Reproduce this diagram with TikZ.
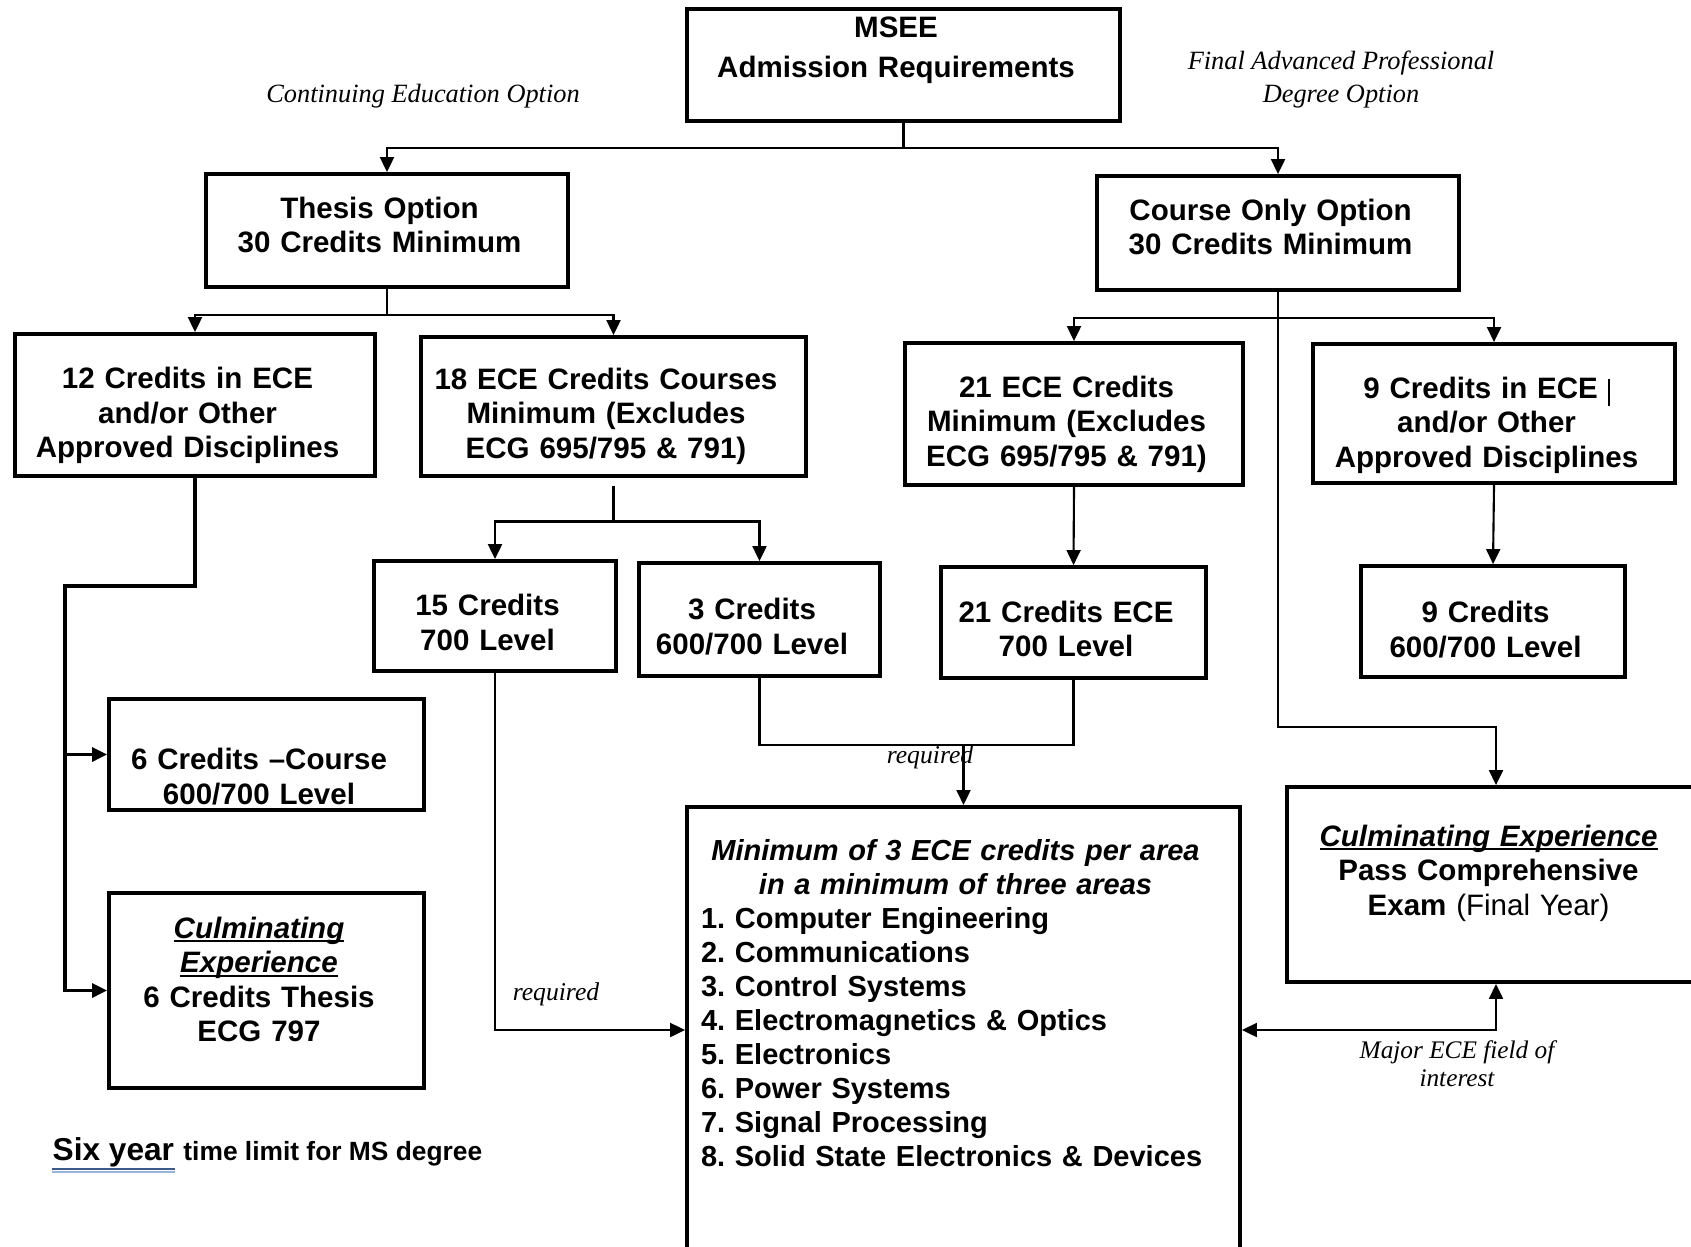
\documentclass[tikz,border=0pt]{standalone}
\usepackage{fontspec}
\setmainfont{Liberation Sans}
\newfontfamily\labelfont{Liberation Serif}
\usetikzlibrary{arrows.meta}
\definecolor{ulinedark}{RGB}{60,90,140}
\definecolor{ulinelight}{RGB}{150,180,220}
\newcommand\wordline[1]{\leavevmode\setbox0\hbox{#1}\rlap{\rule[-1.1pt]{\wd0}{0.55pt}}\box0}

\begin{document}
\begin{tikzpicture}[x=0.1mm, y=-0.1mm,
  >={Triangle[length=1.5mm,width=1.4mm]},
  box/.style 2 args={draw, line width=1.1pt, inner sep=0pt,
    minimum width=#1, text width=#1, minimum height=#2,
    font=\fontsize{8.4}{9.8}\selectfont\bfseries,
    execute at begin node={\centering\rightskip=1.5mm plus 1fil}},
  link/.style={line width=0.6pt},
  note/.style={align=center, font=\labelfont\itshape\fontsize{7.5}{9.4}\selectfont},
  reqnote/.style={font=\labelfont\itshape\fontsize{7.3}{8}\selectfont}]

\clip (0,0) rectangle (1691,1246);

\node[box={43.3mm}{11.2mm}] (msee) at (903.5,65) {MSEE\\[0.55mm]Admission Requirements\\[0.05mm]\mbox{}};
\node[note] (contedu) at (423,96) {Continuing Education Option};
\node[note] (finaladv) at (1341,79.5) {Final Advanced Professional\\Degree Option};

\node[box={36.2mm}{11.3mm}] (thesis) at (387,230.5) {Thesis Option\\30 Credits Minimum\\[-2.25mm]\mbox{}};
\node[box={36.2mm}{11.4mm}] (course) at (1278,233) {Course Only Option\\30 Credits Minimum\\[-2.25mm]\mbox{}};

\node[box={36mm}{14.2mm}] (twelve) at (195,405) {\mbox{}\\[0.8mm]12 Credits in ECE\\and/or Other\\Approved Disciplines};
\node[box={38.5mm}{13.9mm}] (eighteen) at (613.5,406.5) {\mbox{}\\[0.6mm]18 ECE Credits Courses\\Minimum (Excludes\\ECG 695/795 \& 791)};
\node[box={33.8mm}{14.2mm}] (twentyone) at (1074,414) {\mbox{}\\[0.7mm]21 ECE Credits\\Minimum (Excludes\\ECG 695/795 \& 791)};
\node[box={36.2mm}{13.9mm}] (nine) at (1494,413.5) {\mbox{}\\[1mm]9 Credits in ECE\hspace{1mm}\rule[-0.8mm]{0.5pt}{2.7mm}\\and/or Other\\Approved Disciplines};

\node[box={24.2mm}{11mm}] (fifteen) at (495,616) {\mbox{}\\15 Credits\\700 Level};
\node[box={24.1mm}{11.3mm}] (three) at (759.5,619.5) {\mbox{}\\[0.15mm]3 Credits\\600/700 Level};
\node[box={26.5mm}{11.1mm}] (twentyoneece) at (1073.5,622.5) {\mbox{}\\21 Credits ECE\\700 Level};
\node[box={26.4mm}{11.1mm}] (ninelevel) at (1493,621.5) {\mbox{}\\[0.35mm]9 Credits\\600/700 Level};

\node[box={31.5mm}{11.1mm}] (sixcourse) at (266.5,754.5) {\mbox{}\\[3.15mm]6 Credits --Course\\600/700 Level};
\node[box={31.5mm}{19.5mm}] (culmthesis) at (266.5,990.5) {\wordline{\textit{Culminating}}\\\wordline{\textit{Experience}}\\6 Credits Thesis\\ECG 797\\[-1.2mm]\mbox{}};

\node[draw, line width=1.1pt, anchor=north, minimum width=55.3mm, text width=52.5mm, align=left, inner ysep=3.3mm,
  font=\fontsize{8.25}{9.65}\selectfont\bfseries\frenchspacing] (areas) at (963.5,805) {%
\makebox[\hsize]{\itshape Minimum of 3 ECE credits per area\hspace{1.6mm}}\\
\makebox[\hsize]{\itshape in a minimum of three areas\hspace{1.6mm}}\\
1. Computer Engineering\\
2. Communications\\
3. Control Systems\\
4. Electromagnetics \& Optics\\
5. Electronics\\
6. Power Systems\\
7. Signal Processing\\
8. Solid State Electronics \& Devices\\[12mm]\mbox{}};
\node[box={41.8mm}{19.5mm}] (culmexam) at (1496,884.5) {\wordline{\textit{Culminating Experience}}\\Pass Comprehensive\\Exam {\mdseries (Final Year)}\\[-0.55mm]\mbox{}};

\coordinate (mseesplit) at (903.5,148);
\draw[link] (msee.south) -- (mseesplit);
\draw[link,->] (mseesplit) -| (thesis.north);
\draw[link,->] (mseesplit) -| (course.north);

\coordinate (thesissplit) at (387,315);
\draw[link] (thesis.south) -- (thesissplit);
\draw[link,->] (thesissplit) -| (twelve.north);
\draw[link,->] (thesissplit) -| (eighteen.north);

\coordinate (coursesplit) at (1278,318);
\coordinate (courseturn) at (1278,727);
\draw[link,->] (course.south) -- (courseturn) -| (culmexam.north);
\draw[link,->] (coursesplit) -| (twentyone.north);
\draw[link,->] (coursesplit) -| (nine.north);

\coordinate (eighteensplit) at (613.5,521.5);
\draw[link, shorten <=0.8mm] (eighteen.south) -- (eighteensplit);
\draw[link,->] (eighteensplit) -| (fifteen.north);
\draw[link,->] (eighteensplit) -| (three.north);

\draw[link,->] (twentyone.south) -- (twentyoneece.north);
\draw[link,->] (nine.south) -- (ninelevel.north);

\coordinate (twelverail) at (65,586);
\draw[link, line width=0.9pt, ->] (twelve.south) |- (twelverail) |- (culmthesis.west);
\draw[link, line width=0.9pt, ->] (twelverail |- sixcourse.west) -- (sixcourse.west);

\coordinate (reqsplit) at (963.5,745);
\draw[link] (three.south) |- (reqsplit) -| (twentyoneece.south);
\draw[link,->] (reqsplit) -- (areas.north);
\node[reqnote] (reqtop) at (930,757) {required};

\coordinate (arealevel) at (0,1030);
\draw[link,->] (fifteen.south) |- (areas.west |- arealevel);
\node[reqnote] (reqleft) at (556,994) {required};
\draw[link,<->] (areas.east |- arealevel) -| (culmexam.south);
\node[note, font=\labelfont\itshape\fontsize{7.2}{8}\selectfont] (major) at (1457,1064) {Major ECE field of\\interest};

\node[anchor=base west, inner sep=0pt, font=\fontsize{9}{10}\selectfont\bfseries] (sixyear) at (52,1160) {Six year};
\node[anchor=base west, inner sep=0pt, font=\fontsize{7.5}{9}\selectfont\bfseries] (limit) at ([xshift=0.8mm]sixyear.base east) {time limit for MS degree};
\draw[ulinedark, line width=0.45pt] ([yshift=-0.2mm]sixyear.south west) -- ([yshift=-0.2mm]sixyear.south east);
\draw[ulinelight, line width=0.45pt] ([yshift=-0.5mm]sixyear.south west) -- ([yshift=-0.5mm]sixyear.south east);
\end{tikzpicture}
\end{document}
